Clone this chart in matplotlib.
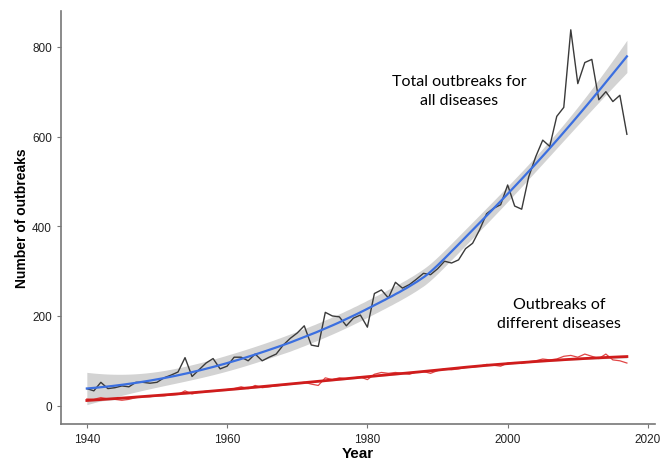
import numpy as np
import matplotlib
matplotlib.use('Agg')
import matplotlib.pyplot as plt

years = np.arange(1940, 2018)

total_outbreaks = [38, 33, 52, 38, 40, 44, 42, 52, 52, 50,
                   52, 62, 68, 75, 107, 65, 80, 95, 105, 82,
                   88, 108, 108, 100, 115, 100, 108, 115, 135, 150,
                   162, 178, 135, 132, 208, 200, 198, 178, 195, 202,
                   175, 250, 258, 240, 275, 262, 270, 282, 295, 292,
                   305, 322, 318, 325, 350, 362, 392, 428, 440, 448,
                   492, 445, 438, 510, 555, 592, 578, 645, 665, 838,
                   718, 765, 772, 682, 700, 678, 692, 605]

different_diseases = [15, 14, 18, 15, 14, 12, 14, 18, 20, 20,
                      22, 22, 24, 25, 33, 26, 30, 32, 33, 34,
                      36, 38, 42, 38, 45, 40, 42, 44, 46, 48,
                      50, 52, 48, 45, 62, 58, 62, 60, 62, 64,
                      58, 70, 74, 72, 74, 72, 70, 75, 76, 72,
                      78, 82, 80, 82, 85, 86, 88, 92, 90, 88,
                      95, 96, 94, 98, 100, 104, 102, 104, 110, 112,
                      108, 115, 110, 105, 115, 102, 100, 95]

x_ticks = [1940, 1960, 1980, 2000, 2020]
y_ticks = [0, 200, 400, 600, 800]


def loess(x, y, xs, span=0.75):
    # local quadratic smoother, like geom_smooth's default
    n = len(x)
    q = int(np.ceil(span * n))
    def weights_at(x0):
        d = np.abs(x - x0)
        h = np.sort(d)[q - 1]
        w = np.clip(1 - (d / h) ** 3, 0, None) ** 3
        X = np.column_stack([np.ones(n), x - x0, (x - x0) ** 2])
        XtW = X.T * w
        return np.linalg.solve(XtW @ X, XtW)[0]
    L = np.array([weights_at(v) for v in x])
    resid = y - L @ y
    I = np.eye(n)
    d1 = np.trace((I - L).T @ (I - L))
    s = np.sqrt(resid @ resid / d1)
    Ls = np.array([weights_at(v) for v in xs])
    fit = Ls @ y
    se = s * np.sqrt((Ls ** 2).sum(axis=1))
    return fit, fit - 1.99 * se, fit + 1.99 * se


x = years.astype(float)
xs = np.linspace(1940, 2017, 300)
tot = np.array(total_outbreaks, dtype=float)
dif = np.array(different_diseases, dtype=float)

fig = plt.figure(figsize=(6.69, 4.60), dpi=100)
ax = fig.add_axes([0.091, 0.077, 0.888, 0.897])

f, lo, hi = loess(x, tot, xs)
ax.fill_between(xs, lo, hi, color='#c8c8c8', alpha=0.8, lw=0)
ax.plot(years, tot, color='#3a3a3a', lw=1.0)
ax.plot(xs, f, color='#3b6fe0', lw=1.6)

f2, lo2, hi2 = loess(x, dif, xs)
ax.fill_between(xs, lo2, hi2, color='#c8c8c8', alpha=0.8, lw=0)
ax.plot(years, dif, color='#e04545', lw=0.9)
ax.plot(xs, f2, color='#d01c1c', lw=2.0)

ax.set_xlim(1936.3, 2021.0)
ax.set_ylim(-40, 880)
ax.set_xticks(x_ticks)
ax.set_yticks(y_ticks)

for sp in ['top', 'right']:
    ax.spines[sp].set_visible(False)
for sp in ['left', 'bottom']:
    ax.spines[sp].set_color('#777777')
    ax.spines[sp].set_linewidth(1.2)
ax.tick_params(colors='#777777', labelcolor='#222222', labelsize=8.5, length=3)
for lab in ax.get_xticklabels() + ax.get_yticklabels():
    lab.set_family('Liberation Sans')

ax.set_xlabel('Year', fontsize=11, fontweight='bold', family='Liberation Sans', labelpad=1)
ax.set_ylabel('Number of outbreaks', fontsize=10, fontweight='bold', family='Liberation Sans', labelpad=2)

ax.text(1993.1, 703, 'Total outbreaks for\nall diseases', fontsize=11.5, family='Lato',
        ha='center', va='center', linespacing=1.45)
ax.text(2007.3, 205, 'Outbreaks of\ndifferent diseases', fontsize=11.5, family='Lato',
        ha='center', va='center', linespacing=1.45)

fig.savefig('out.png', dpi=100)
